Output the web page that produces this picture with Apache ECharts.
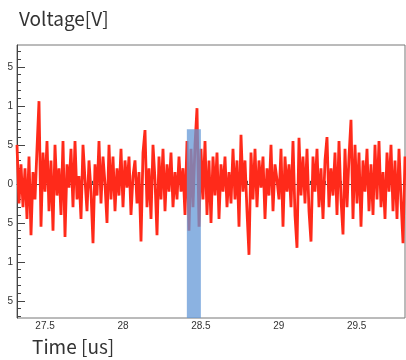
<!DOCTYPE html>
<html>
<head>
<meta charset="utf-8">
<script src="https://cdn.jsdelivr.net/npm/echarts@6/dist/echarts.min.js"></script>
<style>
  html, body { margin: 0; padding: 0; background: #fff; }
  #chart { width: 406px; height: 360px; }
</style>
</head>
<body>
<div id="chart"></div>
<script>
const voltage = [
  0.50, -0.25, 0.25, -0.30, 0.20, -0.45, 0.35, -0.66, 0.15, -0.20,
  0.45, 1.06, -0.55, 0.40, -0.10, 0.55, -0.35, 0.30, -0.60, 0.50,
  -0.15, 0.20, -0.40, 0.55, -0.68, 0.25, -0.05, 0.45, -0.30, 0.55,
  -0.20, 0.10, -0.45, 0.50, 0.05, -0.35, 0.30, -0.10, -0.76, 0.25,
  -0.15, 0.55, -0.25, 0.35, 0.00, -0.50, 0.50, -0.20, 0.35, -0.35,
  0.20, -0.15, 0.45, -0.30, 0.30, -0.05, 0.35, -0.40, 0.10, 0.30,
  -0.25, 0.15, -0.74, 0.40, 0.69, -0.30, 0.20, -0.45, 0.50, 0.05,
  -0.66, 0.35, -0.20, 0.45, -0.35, 0.25, -0.10, 0.40, -0.30, 0.15,
  -0.20, 0.35, -0.10, 0.20, -0.40, 0.55, -0.60, 0.45, -0.30, 0.50,
  0.97, -0.55, 0.45, -0.20, 0.55, -0.40, 0.30, -0.50, 0.35, -0.15,
  0.40, -0.45, 0.25, -0.10, 0.35, -0.30, 0.15, -0.25, 0.45, -0.20,
  0.30, -0.55, 0.63, -0.10, 0.30, -0.35, -0.91, 0.40, -0.20, 0.45,
  -0.30, 0.30, -0.05, 0.35, -0.45, 0.20, -0.15, 0.50, -0.35, 0.25,
  0.05, -0.20, 0.45, -0.55, 0.35, -0.10, 0.25, -0.30, 0.55, -0.40,
  -0.82, 0.59, -0.15, 0.35, -0.25, 0.45, -0.35, -0.74, 0.35, -0.10,
  0.45, -0.30, 0.20, -0.45, 0.30, 0.60, -0.30, 0.20, -0.15, 0.40,
  -0.40, 0.55, -0.20, -0.65, 0.45, -0.30, 0.35, 0.82, -0.45, 0.50,
  -0.25, 0.40, -0.55, 0.30, -0.10, 0.45, -0.35, 0.25, -0.40, 0.50,
  -0.20, 0.55, -0.30, 0.15, -0.45, 0.40, -0.10, 0.50, -0.35, 0.30,
  -0.45, 0.45, -0.20, -0.76, 0.35
];
const tStart = 27.32;   // us, first sample
const tStep = 0.012835; // us, sample period

// highlighted window: [start, end, top]
const band = [[28.41, 28.50, 0.70]];

const xMin = 27.32, xMax = 29.81;
const yMin = -1.72, yMax = 1.78;

const xMajorTicks = [27.5, 28, 28.5, 29, 29.5];
const xTickLabels = ['27.5', '28', '28.5', '29', '29.5'];
const xMinorTicks = [27.4, 27.6, 27.7, 27.8, 27.9, 28.1, 28.2, 28.3, 28.4,
  28.6, 28.7, 28.8, 28.9, 29.1, 29.2, 29.3, 29.4, 29.6, 29.7, 29.8];

const yMajorTicks = [-1.5, -1, -0.5, 0, 0.5, 1, 1.5];
const yTickLabels = ['5', '1', '5', '0', '5', '1', '5'];
const yMinorTicks = [-1.7, -1.6, -1.4, -1.3, -1.2, -1.1, -0.9, -0.8, -0.7, -0.6,
  -0.4, -0.3, -0.2, -0.1, 0.1, 0.2, 0.3, 0.4, 0.6, 0.7, 0.8, 0.9,
  1.1, 1.2, 1.3, 1.4, 1.6, 1.7];

const points = voltage.map((v, i) => [tStart + i * tStep, v]);

const font = '"Noto Sans CJK JP", "Noto Sans", sans-serif';
const tickColor = '#444';

const chart = echarts.init(document.getElementById('chart'), null, { renderer: 'canvas' });

chart.setOption({
  animation: false,
  backgroundColor: '#fff',
  title: [
    { text: 'Voltage[V]', left: 14, top: 4,
      textStyle: { fontFamily: font, fontSize: 19, fontWeight: 'normal', color: '#333' } },
    { text: 'Time [us]', left: 27, top: 332,
      textStyle: { fontFamily: font, fontSize: 19, fontWeight: 'normal', color: '#333' } }
  ],
  grid: {
    left: 17, right: 1, top: 45, bottom: 42,
    show: true, borderColor: '#777', borderWidth: 1, backgroundColor: '#fff'
  },
  xAxis: [
    {
      type: 'value', min: xMin, max: xMax,
      axisLine: { lineStyle: { color: tickColor } },
      splitLine: { show: false },
      axisTick: { inside: true, length: 6, customValues: xMajorTicks, lineStyle: { color: tickColor } },
      axisLabel: {
        customValues: xMajorTicks, margin: 3, color: '#333', fontSize: 10, fontFamily: 'Liberation Sans, Arial',
        formatter: v => xTickLabels[xMajorTicks.indexOf(v)] ?? ''
      }
    },
    {
      type: 'value', min: xMin, max: xMax, position: 'bottom',
      axisLine: { show: false }, splitLine: { show: false }, axisLabel: { show: false },
      axisTick: { inside: true, length: 3, customValues: xMinorTicks, lineStyle: { color: tickColor } }
    }
  ],
  yAxis: [
    {
      type: 'value', min: yMin, max: yMax,
      axisLine: { show: true, lineStyle: { color: tickColor } },
      splitLine: { show: false },
      axisTick: { show: true, inside: true, length: 8, customValues: yMajorTicks, lineStyle: { color: tickColor } },
      axisLabel: {
        customValues: yMajorTicks, margin: 4, color: '#333', fontSize: 10, fontFamily: 'Liberation Sans, Arial',
        formatter: v => yTickLabels[yMajorTicks.indexOf(v)] ?? ''
      }
    },
    {
      type: 'value', min: yMin, max: yMax, position: 'left',
      axisLine: { show: false }, splitLine: { show: false }, axisLabel: { show: false },
      axisTick: { show: true, inside: true, length: 4, customValues: yMinorTicks, lineStyle: { color: tickColor } }
    }
  ],
  series: [
    {
      type: 'line',
      data: points,
      symbol: 'none',
      lineStyle: { color: '#ff2a1a', width: 2.8 },
      z: 2
    },
    {
      type: 'custom',
      data: band,
      zlevel: 1,
      z: 10,
      silent: true,
      renderItem: (params, api) => {
        const p0 = api.coord([api.value(0), yMin]);
        const p1 = api.coord([api.value(1), api.value(2)]);
        return {
          type: 'rect',
          shape: { x: p0[0], y: p1[1], width: p1[0] - p0[0], height: p0[1] - p1[1] },
          style: { fill: 'rgba(100,152,215,0.75)' }
        };
      }
    }
  ]
});
</script>
</body>
</html>
